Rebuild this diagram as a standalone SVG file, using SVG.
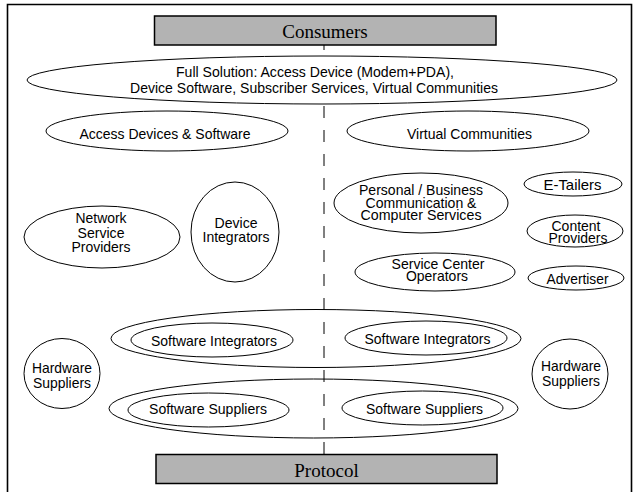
<svg xmlns="http://www.w3.org/2000/svg" width="633" height="492" viewBox="0 0 633 492">
<style>
.t{font-family:"Liberation Sans",Arial,sans-serif;font-size:15px;fill:#000;text-anchor:middle}
.s{font-family:"Liberation Serif","Times New Roman",serif;font-size:19px;fill:#000;text-anchor:middle}
.e{fill:#fff;stroke:#000;stroke-width:1}
.o{fill:none;stroke:#000;stroke-width:1}
.box{fill:#b3b3b3;stroke:#000;stroke-width:1.5}
</style>
<rect width="633" height="492" fill="#fff"/>
<path d="M7.5,492 V4.5 H631.5 V492" fill="none" stroke="#000" stroke-width="1.6"/>
<g id="connectors">
<line x1="324" y1="45" x2="324" y2="50" stroke="#000" stroke-width="1"/>
<line x1="324" y1="46" x2="324" y2="454" stroke="#000" stroke-width="1" stroke-dasharray="12 12" stroke-dashoffset="12"/>
</g>
<g id="consumers"><rect class="box" x="154.5" y="16" width="341.5" height="29"/><text class="s" x="325" y="38">Consumers</text></g>
<g id="protocol"><rect class="box" x="156" y="454.5" width="341" height="29"/><text class="s" x="326.5" y="477">Protocol</text></g>
<g id="full-solution"><ellipse class="e" cx="322" cy="80" rx="295" ry="24"/><text class="t" x="315" y="77" textLength="278" lengthAdjust="spacingAndGlyphs">Full Solution: Access Device (Modem+PDA),</text><text class="t" x="314" y="93" textLength="368" lengthAdjust="spacingAndGlyphs">Device Software, Subscriber Services, Virtual Communities</text></g>
<g id="access-devices"><ellipse class="e" cx="167" cy="131" rx="121" ry="20"/><text class="t" x="165" y="139" textLength="171" lengthAdjust="spacingAndGlyphs">Access Devices &amp; Software</text></g>
<g id="virtual-communities"><ellipse class="e" cx="468" cy="131" rx="121" ry="20"/><text class="t" x="469.5" y="139" textLength="125" lengthAdjust="spacingAndGlyphs">Virtual Communities</text></g>
<g id="network-service-providers"><ellipse class="e" cx="102" cy="237" rx="78" ry="31"/><text class="t" x="101" y="223" textLength="51" lengthAdjust="spacingAndGlyphs">Network</text><text class="t" x="101" y="237.5" textLength="47" lengthAdjust="spacingAndGlyphs">Service</text><text class="t" x="101" y="252" textLength="59" lengthAdjust="spacingAndGlyphs">Providers</text></g>
<g id="device-integrators"><ellipse class="e" cx="235" cy="232" rx="44" ry="50"/><text class="t" x="236" y="228" textLength="43" lengthAdjust="spacingAndGlyphs">Device</text><text class="t" x="236" y="242" textLength="67" lengthAdjust="spacingAndGlyphs">Integrators</text></g>
<g id="personal-business"><ellipse class="e" cx="421" cy="203" rx="87" ry="30"/><text class="t" x="421" y="195" textLength="124" lengthAdjust="spacingAndGlyphs">Personal / Business</text><text class="t" x="421" y="207.5" textLength="111" lengthAdjust="spacingAndGlyphs">Communication &amp;</text><text class="t" x="421" y="220" textLength="121" lengthAdjust="spacingAndGlyphs">Computer Services</text></g>
<g id="service-center"><ellipse class="e" cx="435" cy="272" rx="80" ry="19"/><text class="t" x="438" y="269" textLength="93" lengthAdjust="spacingAndGlyphs">Service Center</text><text class="t" x="437" y="281" textLength="62" lengthAdjust="spacingAndGlyphs">Operators</text></g>
<g id="e-tailers"><ellipse class="e" cx="573" cy="184" rx="49" ry="12"/><text class="t" x="572.5" y="189.5" textLength="58" lengthAdjust="spacingAndGlyphs">E-Tailers</text></g>
<g id="content-providers"><ellipse class="e" cx="575" cy="231" rx="48" ry="16"/><text class="t" x="576" y="231" textLength="49" lengthAdjust="spacingAndGlyphs">Content</text><text class="t" x="578" y="243" textLength="59" lengthAdjust="spacingAndGlyphs">Providers</text></g>
<g id="advertiser"><ellipse class="e" cx="576" cy="278" rx="48" ry="12"/><text class="t" x="577.5" y="284" textLength="62" lengthAdjust="spacingAndGlyphs">Advertiser</text></g>
<g id="hardware-left"><ellipse class="e" cx="62" cy="373.5" rx="38" ry="35"/><text class="t" x="62" y="373" textLength="60" lengthAdjust="spacingAndGlyphs">Hardware</text><text class="t" x="62" y="387.5" textLength="58" lengthAdjust="spacingAndGlyphs">Suppliers</text></g>
<g id="hardware-right"><ellipse class="e" cx="570" cy="374" rx="38" ry="35"/><text class="t" x="571" y="371" textLength="60" lengthAdjust="spacingAndGlyphs">Hardware</text><text class="t" x="571" y="385.5" textLength="58" lengthAdjust="spacingAndGlyphs">Suppliers</text></g>
<g id="integrators-group"><ellipse class="o" cx="316" cy="338.5" rx="205" ry="29"/>
<g id="si-left"><ellipse class="e" cx="212" cy="340" rx="81" ry="17"/><text class="t" x="214" y="346" textLength="126" lengthAdjust="spacingAndGlyphs">Software Integrators</text></g>
<g id="si-right"><ellipse class="e" cx="426" cy="338" rx="81" ry="17"/><text class="t" x="427.5" y="344" textLength="126" lengthAdjust="spacingAndGlyphs">Software Integrators</text></g></g>
<g id="suppliers-group"><ellipse class="o" cx="313.5" cy="408.5" rx="204.5" ry="29.5"/>
<g id="ss-left"><ellipse class="e" cx="208.5" cy="410" rx="80.5" ry="17"/><text class="t" x="208" y="414" textLength="118" lengthAdjust="spacingAndGlyphs">Software Suppliers</text></g>
<g id="ss-right"><ellipse class="e" cx="422.5" cy="408" rx="80.5" ry="17"/><text class="t" x="424.5" y="414" textLength="117" lengthAdjust="spacingAndGlyphs">Software Suppliers</text></g></g>
</svg>
